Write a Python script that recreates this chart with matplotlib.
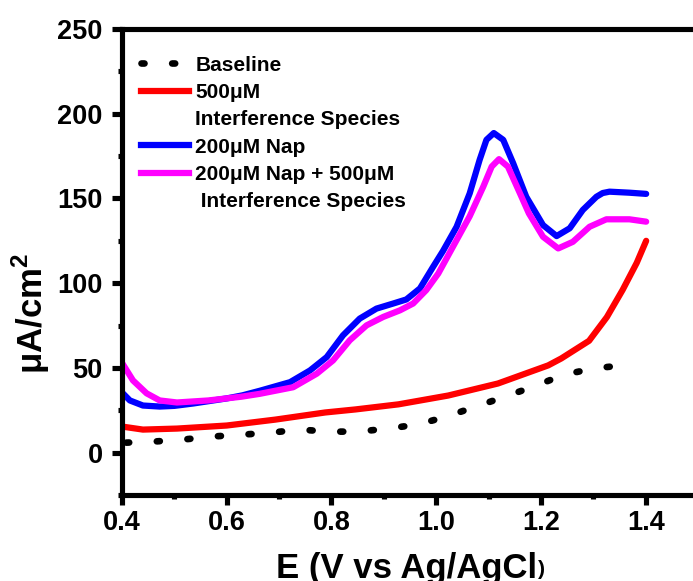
import matplotlib
matplotlib.use("Agg")
import matplotlib.pyplot as plt
from matplotlib.lines import Line2D

plt.rcParams["font.family"] = ["Liberation Sans", "DejaVu Sans"]
plt.rcParams["font.weight"] = "bold"
plt.rcParams["mathtext.fontset"] = "custom"
plt.rcParams["mathtext.rm"] = "Liberation Sans:bold"
plt.rcParams["mathtext.bf"] = "Liberation Sans:bold"

# Baseline (dotted)
base_x = [0.408, 0.459, 0.516, 0.572, 0.629, 0.684, 0.740, 0.795, 0.852,
          0.908, 0.965, 1.020, 1.076, 1.131, 1.186, 1.244, 1.301, 1.356]
base_y = [5.9, 6.5, 7.7, 9.5, 10.6, 11.8, 13.6, 12.4, 12.4,
          14.2, 16.6, 21.3, 27.2, 33.0, 39.0, 46.0, 49.7, 51.5]

# 500uM interference species
red_x = [0.400, 0.440, 0.505, 0.600, 0.693, 0.788, 0.846, 0.928, 1.023,
         1.118, 1.214, 1.239, 1.292, 1.326, 1.356, 1.383, 1.401]
red_y = [15.4, 13.6, 14.2, 16.0, 19.5, 23.7, 25.5, 28.5, 33.7,
         40.8, 51.5, 55.6, 66.0, 80.0, 96.0, 112.0, 125.0]

# 200uM Nap
blue_x = [0.400, 0.415, 0.440, 0.472, 0.500, 0.536, 0.600, 0.630, 0.663,
          0.721, 0.759, 0.791, 0.822, 0.854, 0.886, 0.918, 0.943, 0.969,
          0.994, 1.013, 1.039, 1.064, 1.083, 1.096, 1.110, 1.128, 1.147,
          1.172, 1.204, 1.230, 1.255, 1.280, 1.306, 1.318, 1.331, 1.369, 1.401]
blue_y = [35.5, 30.8, 27.8, 27.2, 27.6, 29.0, 32.0, 33.8, 36.5,
          41.6, 48.5, 56.4, 69.2, 79.1, 85.0, 88.0, 90.4, 96.9,
          109.6, 119.0, 133.3, 153.0, 172.8, 184.6, 188.6, 184.6, 170.8,
          151.0, 134.3, 127.8, 132.4, 143.2, 151.0, 153.2, 154.0, 153.4, 152.7]

# 200uM Nap + 500uM interference species
mag_x = [0.400, 0.421, 0.447, 0.472, 0.505, 0.565, 0.628, 0.663, 0.727,
         0.772, 0.803, 0.835, 0.867, 0.899, 0.931, 0.956, 0.981, 1.004,
         1.032, 1.064, 1.090, 1.106, 1.120, 1.137, 1.160, 1.177, 1.204,
         1.233, 1.261, 1.293, 1.325, 1.369, 1.401]
mag_y = [53.0, 42.6, 35.0, 30.8, 29.6, 30.8, 33.0, 34.7, 38.6,
         46.6, 54.4, 66.3, 75.1, 80.1, 84.0, 88.0, 95.9, 105.7,
         121.5, 139.5, 157.0, 168.8, 173.2, 168.8, 153.0, 141.2, 127.4,
         120.5, 124.4, 133.3, 137.7, 137.7, 136.3]

labels = ["Baseline", "500\u03bcM", "Interference Species", "200\u03bcM Nap",
          "200\u03bcM Nap + 500\u03bcM", " Interference Species"]

W, H = 693, 581
fig = plt.figure(figsize=(W / 100, H / 100), dpi=100)
ax = fig.add_axes([122 / W, 1 - 495 / H, 576 / W, 466 / H])

dots = (0, (0.45, 4.15))
lw = 4.5
ax.plot(base_x, base_y, color="black", lw=4.8, linestyle=dots,
        dash_capstyle="round")
ax.plot(red_x, red_y, color="#ff0000", lw=lw, solid_capstyle="round",
        solid_joinstyle="round")
ax.plot(blue_x, blue_y, color="#0000ff", lw=lw, solid_capstyle="round",
        solid_joinstyle="round")
ax.plot(mag_x, mag_y, color="#ff00ff", lw=lw, solid_capstyle="round",
        solid_joinstyle="round")

ax.set_xlim(0.4, 1.5)
ax.set_ylim(-25, 250)
ax.set_xticks([0.4, 0.6, 0.8, 1.0, 1.2, 1.4])
ax.set_xticks([0.5, 0.7, 0.9, 1.1, 1.3, 1.5], minor=True)
ax.set_yticks([0, 50, 100, 150, 200, 250])
ax.set_yticks([-25, 25, 75, 125, 175, 225], minor=True)
ax.set_xticklabels(["0.4", "0.6", "0.8", "1.0", "1.2", "1.4"])

for s in ["left", "bottom", "top"]:
    ax.spines[s].set_linewidth(3.7)
ax.spines["right"].set_visible(False)
ax.tick_params(which="major", length=7, width=3.7, labelsize=19.5, pad=4)
ax.tick_params(axis="y", which="major", pad=7)
ax.tick_params(which="minor", length=3, width=3.7)
for lab in ax.get_xticklabels() + ax.get_yticklabels():
    lab.set_fontweight("bold")

# legend: six rows, continuation lines get an empty handle
blank = Line2D([], [], color="none")
handles = [
    Line2D([], [], color="black", lw=4.8, linestyle=dots, dash_capstyle="round"),
    Line2D([], [], color="#ff0000", lw=lw),
    blank,
    Line2D([], [], color="#0000ff", lw=lw),
    Line2D([], [], color="#ff00ff", lw=lw),
    blank,
]
leg = ax.legend(handles, labels, loc="upper left", bbox_to_anchor=(0.033, 0.943),
                frameon=False, fontsize=15, handlelength=2.3, handletextpad=0.3,
                labelspacing=0.4, borderpad=0, borderaxespad=0)
for t in leg.get_texts():
    t.set_fontweight("bold")

# axis labels
fig.text(537 / W, 1 - 578 / H, "E (V vs Ag/AgCl", fontsize=25, fontweight="bold",
         ha="right", va="baseline")
fig.text(538 / W, 1 - 575 / H, ")", fontsize=15, fontweight="bold",
         ha="left", va="baseline")
fig.text(31 / W, 268 / H, "\u03bcA/cm$^{\\mathbf{2}}$", fontsize=25, fontweight="bold",
         rotation=90, ha="center", va="center")

fig.savefig("out.png", dpi=100)
